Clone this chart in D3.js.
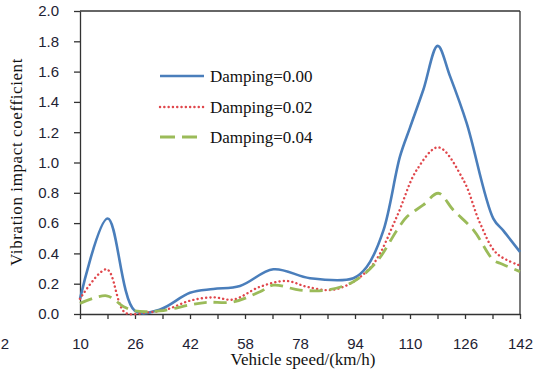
<!DOCTYPE html>
<html><head><meta charset="utf-8">
<script src="https://cdn.jsdelivr.net/npm/d3@7"></script>
<style>body{margin:0;background:#fff}svg{display:block}</style>
</head><body>
<svg id="c" width="545" height="375"></svg>
<script>
// ---- data (speed km/h, coefficient) ----
const seriesNames = ["Damping=0.00", "Damping=0.02", "Damping=0.04"];
const damping000 = [[10,0.10],[18.3,0.63],[26.5,0.02],[34,0.03],[43,0.14],[50,0.165],[58,0.185],[68,0.295],[79,0.236],[92,0.236],[96,0.31],[101,0.55],[106,1.04],[109,1.23],[113,1.48],[117.3,1.77],[121,1.57],[126,1.26],[134,0.63],[137,0.55],[142,0.41]];
const damping002 = [[10,0.10],[18,0.295],[23.5,0.01],[30,0.01],[36,0.03],[43,0.088],[50,0.11],[56,0.095],[64,0.18],[72,0.218],[78,0.18],[85,0.158],[91,0.2],[98,0.33],[105,0.64],[111,0.95],[117.5,1.10],[125,0.885],[130,0.6],[135,0.40],[142,0.32]];
const damping004 = [[10,0.07],[18,0.12],[23,0.05],[26.5,0.02],[34,0.02],[43,0.06],[48,0.077],[56,0.08],[64,0.147],[68,0.19],[76,0.158],[84,0.158],[92,0.213],[99,0.345],[105,0.55],[108,0.64],[113,0.72],[117.5,0.797],[122,0.686],[128,0.555],[134,0.356],[136,0.335],[142,0.28]];
const xTickLabels = ["10","26","42","58","78","94","110","126","142"];
const yTicks = [0,0.2,0.4,0.6,0.8,1.0,1.2,1.4,1.6,1.8,2.0];

const svg = d3.select("#c");
const L = 80, R = 520, T = 11, B = 314;
const x = d3.scaleLinear().domain([10,142]).range([L,R]);
const y = d3.scaleLinear().domain([0,2]).range([B,T]);
const axisColor = "#333";
const tickFont = "'Liberation Sans', Arial, sans-serif";
const serif = "'Liberation Serif', 'Times New Roman', serif";

// frame top & right
svg.append("line").attr("x1",L).attr("x2",R).attr("y1",T).attr("y2",T).attr("stroke",axisColor).attr("stroke-width",1.3);
svg.append("line").attr("x1",R).attr("x2",R).attr("y1",T).attr("y2",B).attr("stroke",axisColor).attr("stroke-width",1.3);

// x axis
const nMinor = 16;
const xTickVals = d3.range(nMinor+1).map(i => 10 + i*132/nMinor);
const xAxis = d3.axisBottom(x).tickValues(xTickVals)
  .tickFormat((d,i) => i%2===0 ? xTickLabels[i/2] : "")
  .tickSizeInner(5).tickSizeOuter(0).tickPadding(19);
const gx = svg.append("g").attr("transform",`translate(0,${B})`).call(xAxis);
gx.select(".domain").attr("stroke",axisColor).attr("stroke-width",1.3);
gx.selectAll(".tick line").attr("stroke",axisColor).attr("stroke-width",1.3);
gx.selectAll("text").attr("font-family",tickFont).attr("font-size",15).attr("fill","#1e2233");

// stray clipped label at far left
svg.append("text").attr("x",9).attr("y",B+19+5+10.6).attr("text-anchor","end")
  .attr("font-family",tickFont).attr("font-size",15).attr("fill","#1e2233").text("2");

// y axis
const yAxis = d3.axisLeft(y).tickValues(yTicks).tickFormat(d3.format(".1f"))
  .tickSizeInner(6).tickSizeOuter(0).tickPadding(15);
const gy = svg.append("g").attr("transform",`translate(${L},0)`).call(yAxis);
gy.select(".domain").attr("stroke",axisColor).attr("stroke-width",1.3);
gy.selectAll(".tick line").attr("stroke",axisColor).attr("stroke-width",1.3);
gy.selectAll("text").attr("font-family",tickFont).attr("font-size",15).attr("fill","#1e2233");

// axis titles
svg.append("text").attr("x",303).attr("y",365).attr("text-anchor","middle")
  .attr("font-family",serif).attr("font-size",17).attr("fill","#111").text("Vehicle speed/(km/h)");
svg.append("text").attr("transform","translate(22,162) rotate(-90)").attr("text-anchor","middle")
  .attr("font-family",serif).attr("font-size",17).attr("letter-spacing",0.6).attr("fill","#111").text("Vibration impact coefficient");

// lines
const line = d3.line().x(d=>x(d[0])).y(d=>y(d[1])).curve(d3.curveCatmullRom.alpha(0.5));
const styles = [
  {data: damping000, color:"#4a7ebb", dash:null, w:2.6, cap:"butt"},
  {data: damping002, color:"#e0474c", dash:"0.1 4.2", w:2.4, cap:"round"},
  {data: damping004, color:"#9bbb59", dash:"13 7", w:2.8, cap:"butt"}
];
styles.forEach(s => {
  svg.append("path").datum(s.data).attr("d",line).attr("fill","none")
    .attr("stroke",s.color).attr("stroke-width",s.w).attr("stroke-linecap",s.cap)
    .attr("stroke-dasharray",s.dash);
});

// legend
const legY = [76, 107, 137];
styles.forEach((s,i) => {
  svg.append("line").attr("x1",160).attr("x2",204).attr("y1",legY[i]).attr("y2",legY[i])
    .attr("stroke",s.color).attr("stroke-width",s.w).attr("stroke-linecap",s.cap)
    .attr("stroke-dasharray", s.dash ? (i===2 ? "15 7" : s.dash) : null);
  svg.append("text").attr("x",210).attr("y",legY[i]+6).attr("font-family",serif)
    .attr("font-size",17).attr("fill","#111").text(seriesNames[i]);
});
</script>
</body></html>
